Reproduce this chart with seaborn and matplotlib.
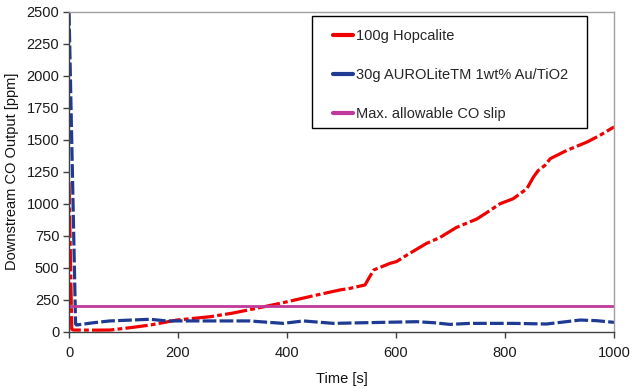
import numpy as np
import pandas as pd
import seaborn as sns
import matplotlib.pyplot as plt
from matplotlib.lines import Line2D
from matplotlib.patches import Rectangle

# Valeurs
t_hop = [0, 5, 8, 45, 75, 110, 149, 198, 259, 300, 350, 393, 455, 497, 516, 543, 550,
         559, 589, 601, 620, 656, 681, 711, 748, 767, 791, 815, 840, 852, 861, 873,
         883, 913, 950, 974, 1000]
co_hop = [1170, 20, 13, 12, 13, 30, 52, 91, 117, 145, 188, 227, 287, 326, 339, 365, 417,
          482, 534, 548, 599, 690, 737, 815, 880, 932, 1000, 1039, 1117, 1208, 1260, 1299,
          1352, 1416, 1481, 1534, 1600]

t_auro = [0, 12, 14, 45, 75, 149, 179, 259, 332, 350, 393, 430, 485, 577, 638, 669, 699,
          736, 815, 876, 938, 968, 1000]
co_auro = [2500, 60, 52, 70, 84, 97, 84, 84, 84, 78, 65, 84, 65, 73, 78, 70, 57,
           65, 65, 60, 91, 86, 73]

t_slip = [0, 1000]
co_slip = [200, 200]

labels = ['100g Hopcalite', '30g AUROLiteTM 1wt% Au/TiO2', 'Max. allowable CO slip']
colors = ['#f00000', '#1f3a93', '#c0399a']

df = pd.concat([
    pd.DataFrame({'Time': t_hop, 'CO': co_hop, 'serie': labels[0]}),
    pd.DataFrame({'Time': t_auro, 'CO': co_auro, 'serie': labels[1]}),
    pd.DataFrame({'Time': t_slip, 'CO': co_slip, 'serie': labels[2]}),
])

sns.set_style('white')
plt.rcParams['font.family'] = ['Liberation Sans', 'DejaVu Sans']
fs = 10.5

fig = plt.figure(figsize=(6.35, 3.91), dpi=100)
ax = fig.add_axes([0.1087, 0.1517, 0.8583, 0.8183])

palette = dict(zip(labels, colors))
dashes = {labels[0]: (7, 1.0, 1.5, 1.0), labels[1]: (4.3, 1.0), labels[2]: ''}
sns.lineplot(data=df, x='Time', y='CO', hue='serie', style='serie', palette=palette,
             dashes=dashes, estimator=None, sort=False, legend=False, ax=ax)
for line, lw in zip(ax.get_lines(), [2.3, 2.3, 2.0]):
    line.set_linewidth(lw)

ax.set_xlim(0, 1000)
ax.set_ylim(0, 2500)
ax.set_xticks(np.arange(0, 1001, 200))
ax.set_yticks(np.arange(0, 2501, 250))
ax.tick_params(axis='both', direction='out', length=4, width=1, color='#404040',
               labelsize=fs, labelcolor='#1a1a1a', left=True, bottom=True, pad=3)
ax.tick_params(axis='x', pad=6)
for s in ['left', 'bottom']:
    ax.spines[s].set_color('#404040')
    ax.spines[s].set_linewidth(1)
for s in ['top', 'right']:
    ax.spines[s].set_color('#a0a0a0')
    ax.spines[s].set_linewidth(1)

ax.set_xlabel('Time [s]', fontsize=fs, color='#111111', labelpad=9)
ax.set_ylabel('Downstream CO Output [ppm]', fontsize=fs, color='#111111', labelpad=5)

# cadre de la légende
box = Rectangle((312 / 635, 1 - 128 / 391), 275 / 635, 112 / 391, transform=fig.transFigure,
                facecolor='white', edgecolor='black', linewidth=1, zorder=4, clip_on=False)
ax.add_patch(box)

handles = [Line2D([], [], color=c, lw=3) for c in colors]
leg = ax.legend(handles, labels, loc='upper left', bbox_to_anchor=(333 / 635, 0.926),
                bbox_transform=fig.transFigure, fontsize=fs, frameon=False,
                borderaxespad=0, borderpad=0, labelspacing=1.72, handlelength=1.4,
                handletextpad=0.2)
leg.set_zorder(5)

fig.savefig('out.png', dpi=100)
